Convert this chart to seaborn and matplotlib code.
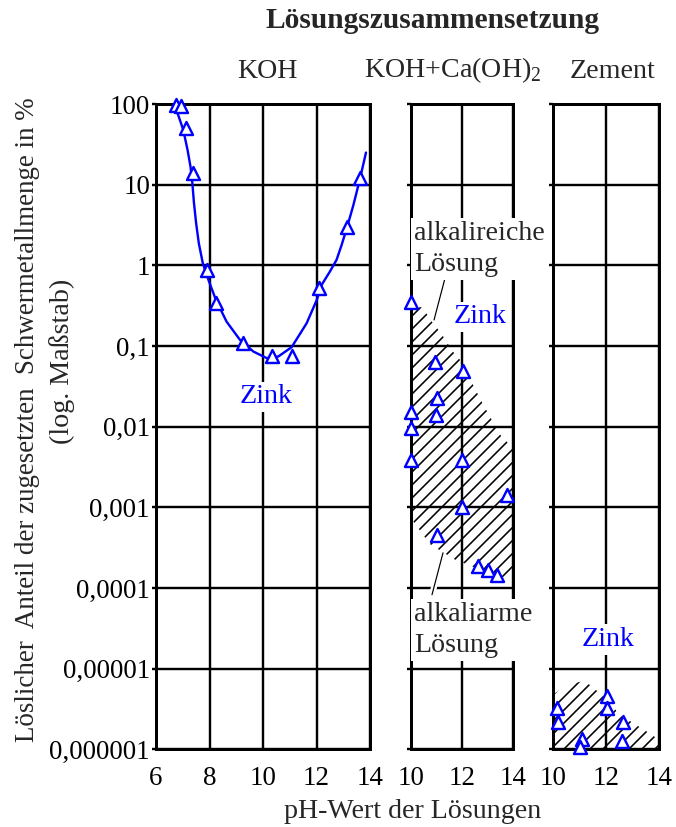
import matplotlib
matplotlib.use("Agg")
import matplotlib.pyplot as plt
import matplotlib.patheffects as pe
from matplotlib.patches import Polygon
from matplotlib.ticker import FixedLocator, NullLocator
import seaborn as sns

# ---- measured zinc fractions (percent of added heavy metal in solution) ----
koh_ph = [6.74, 6.92, 7.11, 7.38, 7.89, 8.24, 9.27, 10.32, 11.07, 12.09, 13.15, 13.63]
koh_zn = [97, 94, 51, 14, 0.88, 0.34, 0.108, 0.076, 0.076, 0.53, 3.0, 12]

# smoothed trend through the KOH series
curve_ph = [6.65, 6.83, 7.02, 7.18, 7.29, 7.36, 7.42, 7.50, 7.60, 7.75, 7.96, 8.24,
            8.64, 9.14, 9.64, 10.14, 10.57, 11.07, 11.63, 12.01, 12.19, 12.50, 12.75,
            12.94, 13.15, 13.38, 13.63, 13.85]
curve_zn = [100, 73, 47.6, 26.9, 16.7, 10.4, 5.9, 3.33, 1.88, 1.06, 0.66, 0.372,
            0.20, 0.119, 0.0853, 0.0707, 0.074, 0.0966, 0.191, 0.372, 0.571, 0.836, 1.17,
            1.79, 3.02, 5.6, 12, 25]

caoh_ph = [10.0, 10.95, 12.05, 11.01, 10.0, 10.97, 10.0, 10.0, 11.99, 13.77, 11.99, 11.01,
           12.64, 13.0, 13.35]
caoh_zn = [0.355, 0.064, 0.049, 0.0225, 0.0154, 0.014, 0.0096, 0.0039, 0.0039, 0.00143,
           0.001, 0.000456, 0.000188, 0.000168, 0.000146]

zement_ph = [10.13, 10.16, 12.02, 12.02, 12.65, 11.07, 11.0, 12.61]
zement_zn = [3.25e-6, 2.15e-6, 4.6e-6, 3.25e-6, 2.15e-6, 1.34e-6, 1.07e-6, 1.26e-6]

# scatter bands (hatched areas)
band_caoh_ph = [10.0, 10.44, 11.22, 11.65, 12.0, 12.39, 12.78, 13.17, 13.4, 13.75, 14.0,
                14.0, 13.56, 12.7, 11.73, 10.75, 10.0]
band_caoh_zn = [0.32, 0.30, 0.138, 0.085, 0.063, 0.035, 0.020, 0.012, 0.0085, 0.0065, 0.0051,
                0.000145, 0.00012, 0.00017, 0.000224, 0.00035, 0.00074]
band_zement_ph = [10.0, 10.6, 11.2, 12.0, 12.5, 13.3, 13.75, 14.0, 14.0, 10.0]
band_zement_zn = [4.8e-6, 6.5e-6, 7.0e-6, 4.3e-6, 2.7e-6, 1.86e-6, 1.5e-6, 1.3e-6, 1e-6, 1e-6]

y_ticks = [1e2, 1e1, 1, 1e-1, 1e-2, 1e-3, 1e-4, 1e-5, 1e-6]
y_ticklabels = ["100", "10", "1", "0,1", "0,01", "0,001", "0,0001", "0,00001", "0,000001"]
koh_xticks = [6, 8, 10, 12, 14]
other_xticks = [10, 12, 14]

DPI = 78
BLUE = "#0000ff"


def px(v):
    """pixels -> points"""
    return v * 72 / DPI


sns.set_style("white")
plt.rcParams["font.family"] = ["Liberation Serif", "DejaVu Serif"]
plt.rcParams["mathtext.fontset"] = "custom"
plt.rcParams["mathtext.rm"] = "Liberation Serif"
plt.rcParams["hatch.linewidth"] = px(1.6)

FS = px(28)       # general text size
FS_TICK = px(27)

fig = plt.figure(figsize=(676 / DPI, 827 / DPI), dpi=DPI)
bottom, height = 1 - 749.3 / 827, (749.3 - 104) / 827
ax1 = fig.add_axes([156 / 676, bottom, 214 / 676, height])
ax2 = fig.add_axes([410.7 / 676, bottom, 102.6 / 676, height])
ax3 = fig.add_axes([553.3 / 676, bottom, 105.7 / 676, height])


def style(ax, xlim, xticks, show_y):
    ax.set_yscale("log")
    ax.set_ylim(1e-6, 100)
    ax.set_xlim(*xlim)
    ax.yaxis.set_major_locator(FixedLocator(y_ticks))
    ax.yaxis.set_minor_locator(NullLocator())
    ax.set_xticks(xticks)
    ax.set_xticklabels([str(t) for t in xticks])
    if show_y:
        ax.set_yticklabels(y_ticklabels)
    ax.grid(True, color="black", lw=px(2.4))
    ax.set_axisbelow(True)
    for s in ax.spines.values():
        s.set_visible(True)
        s.set_color("black")
        s.set_linewidth(px(3))
    ax.tick_params(axis="y", left=True, direction="out", length=px(4), width=px(2.4),
                   labelleft=show_y, labelsize=FS_TICK, pad=px(2), colors="black")
    ax.tick_params(axis="x", bottom=False, length=0, pad=px(17), labelsize=FS_TICK,
                   colors="black")
    ax.set_xlabel("")
    ax.set_ylabel("")


style(ax1, (6, 14), koh_xticks, True)
style(ax2, (10, 14), other_xticks, False)
style(ax3, (10, 14), other_xticks, False)

# hatched bands
for ax, bx, by in [(ax2, band_caoh_ph, band_caoh_zn), (ax3, band_zement_ph, band_zement_zn)]:
    ax.add_patch(Polygon(list(zip(bx, by)), closed=True, facecolor="none",
                         edgecolor="black", linewidth=0, hatch="//", zorder=1))

# KOH trend line
sns.lineplot(x=curve_ph, y=curve_zn, sort=False, estimator=None, color=BLUE,
             lw=px(2.4), ax=ax1, zorder=3)

marker_kw = dict(marker="^", s=px(13) ** 2, facecolor="white", edgecolor=BLUE,
                 linewidth=px(2.4), zorder=4, clip_on=False)
sns.scatterplot(x=koh_ph, y=koh_zn, ax=ax1, **marker_kw)
sns.scatterplot(x=caoh_ph, y=caoh_zn, ax=ax2, **marker_kw)
sns.scatterplot(x=zement_ph, y=zement_zn, ax=ax3, **marker_kw)

white_box = dict(boxstyle="square,pad=0.1", facecolor="white", edgecolor="none")

for ax, x, y in [(ax1, 10.1, 0.0234), (ax2, 12.7, 0.23), (ax3, 12.07, 2.28e-5)]:
    ax.text(x, y, "Zink", color=BLUE, fontsize=FS, ha="center", va="center",
            bbox=white_box, zorder=5)

ax2.text(10.13, 1.6, "alkalireiche\nLösung", fontsize=FS, ha="left", va="center",
         linespacing=1.3, bbox=white_box, zorder=5, clip_on=False)
ax2.text(10.13, 3.0e-5, "alkaliarme\nLösung", fontsize=FS, ha="left", va="center",
         linespacing=1.35, bbox=white_box, zorder=5, clip_on=False)

leader = dict(color="black", lw=px(1.2), zorder=4,
              path_effects=[pe.Stroke(linewidth=px(6), foreground="white"), pe.Normal()])
ax2.plot([11.34, 10.91], [10 ** -0.156, 10 ** -0.677], **leader)
ax2.plot([11.26, 10.83], [10 ** -3.564, 10 ** -4.084], **leader)

# headings
fig.text(433 / 676, 1 - 21 / 827, "Lösungszusammensetzung", fontsize=px(29.5),
         fontweight="bold", ha="center", va="center")
fig.text(267 / 676, 1 - 72 / 827, "KOH", fontsize=FS, ha="center", va="center")
fig.text(453 / 676, 1 - 70 / 827, r"KOH+Ca(OH)$_2$", fontsize=FS, ha="center", va="center")
fig.text(613 / 676, 1 - 72 / 827, "Zement", fontsize=FS, ha="center", va="center")

# axis titles
fig.text(413 / 676, 1 - 812 / 827, "pH-Wert der Lösungen", fontsize=FS, ha="center",
         va="center")
fig.text(28 / 676, 1 - 420 / 827, "Löslicher  Anteil der zugesetzten  Schwermetallmenge in %",
         fontsize=px(27), rotation=90, ha="center", va="center")
fig.text(62 / 676, 1 - 361 / 827, "(log. Maßstab)", fontsize=FS, rotation=90,
         ha="center", va="center")

fig.savefig("out.png", dpi=DPI)
